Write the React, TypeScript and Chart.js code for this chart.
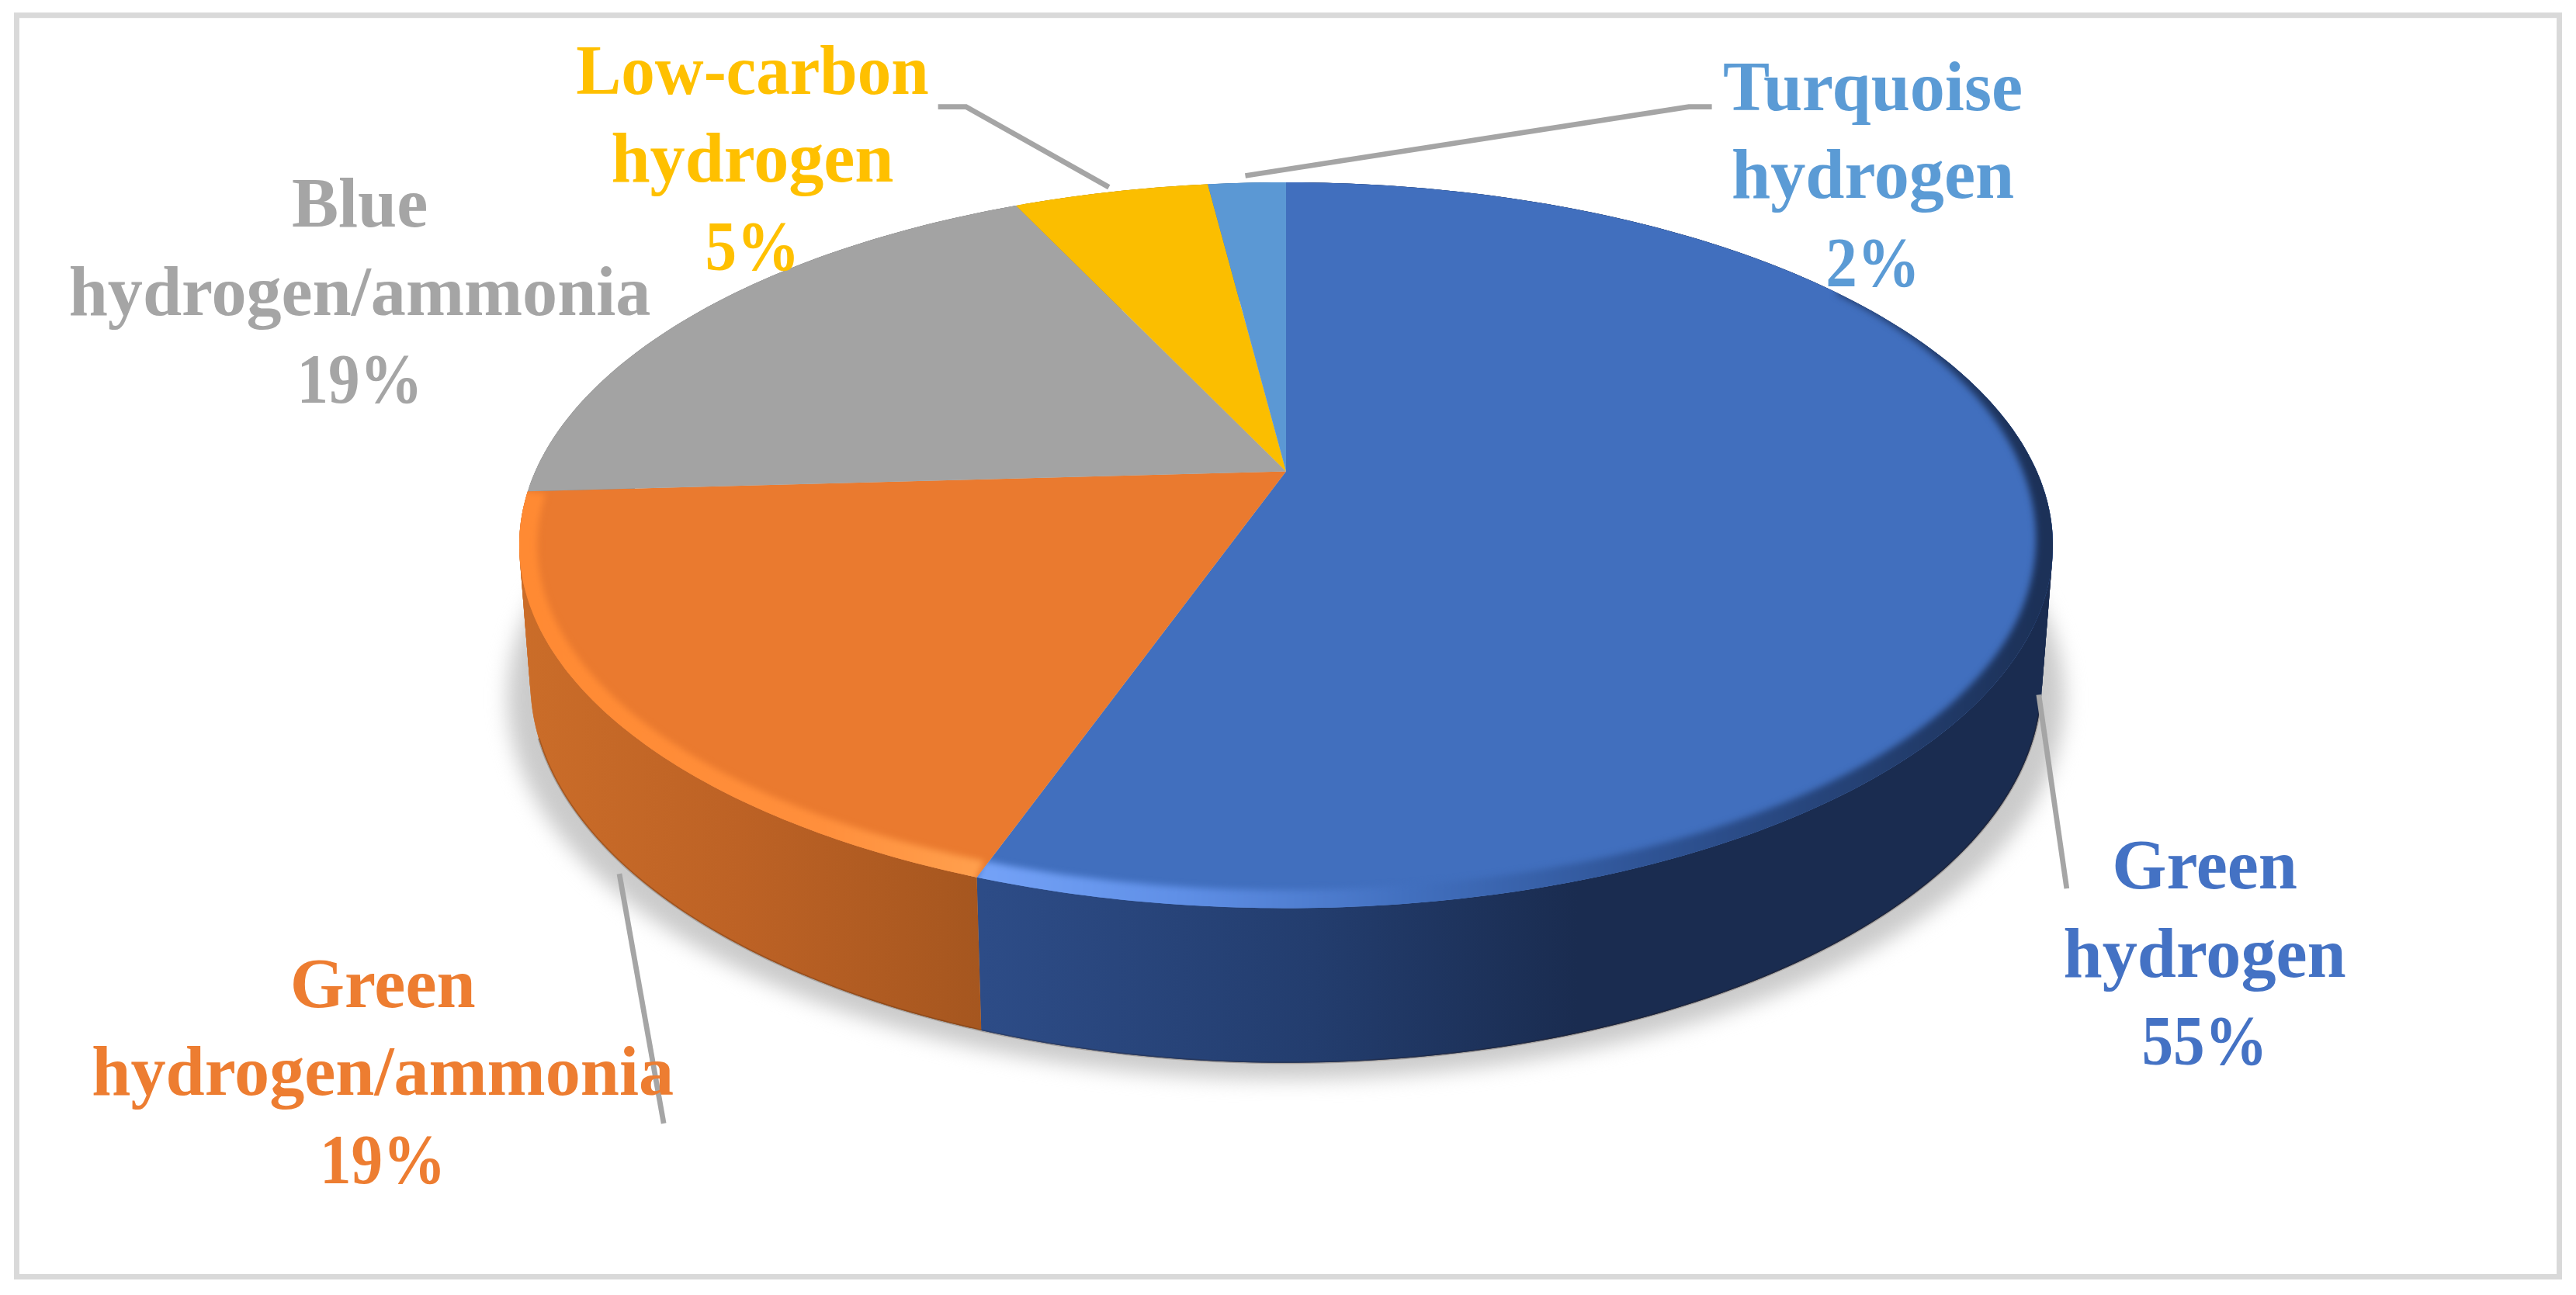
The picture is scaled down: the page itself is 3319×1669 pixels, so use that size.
import React, { useEffect, useRef } from "react";
import { Chart, registerables } from "chart.js";

Chart.register(...registerables);

const categories = ["Green hydrogen", "Green hydrogen/ammonia", "Blue hydrogen/ammonia", "Low-carbon hydrogen", "Turquoise hydrogen"];
const shares = [55.4, 18.7, 18.9, 5, 2];
const labelLines = [["Green", "hydrogen"], ["Green", "hydrogen/ammonia"], ["Blue", "hydrogen/ammonia"], ["Low-carbon", "hydrogen"], ["Turquoise", "hydrogen"]];
const sliceColors = ["#416fbe", "#ea7a2f", "#a3a3a3", "#fbbe00", "#5b98d4"];
const textColors = ["#4472c4", "#ed7d31", "#a5a5a5", "#ffc000", "#5b9bd5"];

const S = 3319 / 1568;
const FONT = 'bold 42.6px "Liberation Serif"';
const labelPos = [
  { x: 1342, y: 541 },
  { x: 233, y: 613 },
  { x: 219, y: 138 },
  { x: 458, y: 57 },
  { x: 1140, y: 67 },
];
const LINE_GAP = 53.7;
const leaders = [
  [[1241, 423], [1258, 541]],
  [[377, 532], [404, 684]],
  [[571, 65], [588, 65], [675, 114]],
  [[758, 107], [1028, 65], [1042, 65]],
];
const wallStops: [number, string][][] = [
  [[598, "#2d4c87"], [800, "#233d6e"], [960, "#1a2c50"], [1260, "#1a2c50"]],
  [[315, "#cb6d29"], [450, "#bd6225"], [600, "#a5561f"]],
  [[315, "#7c7c7c"], [620, "#7c7c7c"]],
  [[620, "#bf9000"], [740, "#bf9000"]],
  [[735, "#3f76a8"], [785, "#3f76a8"]],
];
const rimStops: [number, string][][] = [
  [[598, "#74a2f7"], [720, "#5f8fe6"], [860, "#416fbe"], [1000, "#2f5496"], [1240, "#1c3158"]],
  [[320, "#ff8a33"], [500, "#ff8f3c"], [600, "#ffa04e"]],
];

const K = -0.2036;
const project = (theta: number, a: number, b: number, c: number) => {
  const u = Math.sin(theta);
  const v = -Math.cos(theta);
  const w = 1 + K * v;
  return [(a * u) / w, (b * v + c) / w];
};
const topP = (t: number) => project(t, 457, 211.8, 0);
const botP = (t: number) => project(t, 450.4, 206, 80.8);

const range = (t0: number, t1: number) => {
  const n = Math.max(2, Math.ceil((t1 - t0) * 80));
  const out: number[] = [];
  for (let i = 0; i <= n; i++) out.push(t0 + ((t1 - t0) * i) / n);
  return out;
};
const rad = (d: number) => (d * Math.PI) / 180;
const BAND_START = 55;
const bandWidth = (t: number) => {
  const f = Math.min(1, Math.max(0, (t - rad(BAND_START)) / rad(55)));
  return 1 + 10 * f * f * (3 - 2 * f);
};

const pie3d = {
  id: "pie3d",
  beforeDatasetDraw(chart: any) {
    const ctx = chart.ctx as CanvasRenderingContext2D;
    const arcs = chart.getDatasetMeta(0).data;
    const cx = arcs[0].x / S;
    const cy = arcs[0].y / S;
    const angles = arcs.map((el: any) => {
      const p = el.getProps(["startAngle", "endAngle"], true);
      return [p.startAngle + Math.PI / 2, p.endAngle + Math.PI / 2];
    });
    const poly = (fn: (t: number) => number[], t0: number, t1: number) => {
      ctx.beginPath();
      range(t0, t1).forEach((t, j) => {
        const [x, y] = fn(t);
        if (j) ctx.lineTo(cx + x, cy + y);
        else ctx.moveTo(cx + x, cy + y);
      });
    };
    const hGrad = (stops: [number, string][]) => {
      const x0 = stops[0][0];
      const w = stops[stops.length - 1][0] - x0;
      const g = ctx.createLinearGradient(x0, 0, x0 + w, 0);
      stops.forEach(([x, col]) => g.addColorStop((x - x0) / w, col));
      return g;
    };
    ctx.save();
    ctx.scale(S, S);

    // soft shadow
    ctx.save();
    ctx.filter = "blur(13px)";
    ctx.fillStyle = "#cbcbcb";
    ctx.beginPath();
    range(0, Math.PI * 2).forEach((t, i) => {
      const [x, y] = botP(t);
      const px = cx + x * 1.03;
      const py = cy + y + 10;
      if (i) ctx.lineTo(px, py);
      else ctx.moveTo(px, py);
    });
    ctx.closePath();
    ctx.fill();
    ctx.restore();

    // walls, built from overlapping strips so the fold at the silhouette stays filled
    angles.forEach(([t0, t1]: number[], i: number) => {
      const ts = range(t0, t1);
      ctx.fillStyle = hGrad(wallStops[i]);
      for (let j = 0; j < ts.length - 1; j++) {
        const a = ts[j];
        const b = ts[Math.min(j + 2, ts.length - 1)];
        const [x1, y1] = topP(a);
        const [x2, y2] = topP(b);
        const [x3, y3] = botP(b);
        const [x4, y4] = botP(a);
        ctx.beginPath();
        ctx.moveTo(cx + x1, cy + y1);
        ctx.lineTo(cx + x2, cy + y2);
        ctx.lineTo(cx + x3, cy + y3);
        ctx.lineTo(cx + x4, cy + y4);
        ctx.closePath();
        ctx.fill();
      }
    });
    // dark lower edge of the wall
    ctx.strokeStyle = "rgba(40,20,0,0.22)";
    ctx.lineWidth = 1.4;
    poly(botP, rad(105), rad(250));
    ctx.stroke();

    // top face
    const slicePath = (t0: number, t1: number) => {
      ctx.beginPath();
      ctx.moveTo(cx, cy);
      range(t0, t1).forEach((t) => {
        const [x, y] = topP(t);
        ctx.lineTo(cx + x, cy + y);
      });
      ctx.closePath();
    };
    angles.forEach(([t0, t1]: number[], i: number) => {
      slicePath(t0, t1);
      ctx.fillStyle = sliceColors[i];
      ctx.fill();
    });

    // bevel along the front rim, tapering in from the back
    const ey = 45;
    [0, 1].forEach((i) => {
      const [t0, t1] = angles[i];
      const from = i === 0 ? rad(BAND_START) : t0;
      const ts = range(from, t1);
      ctx.save();
      slicePath(t0, t1);
      ctx.clip();
      ctx.filter = "blur(4px)";
      ctx.fillStyle = hGrad(rimStops[i]);
      const at = (t: number, off: number) => {
        const [x, y] = topP(t);
        const dx = x;
        const dy = (y - ey) * 2.1;
        const d = Math.hypot(dx, dy) || 1;
        return [cx + x + (dx / d) * off, cy + y + (dy / d) * off];
      };
      ctx.beginPath();
      ts.forEach((t, j) => {
        const [x, y] = at(t, 8);
        if (j) ctx.lineTo(x, y);
        else ctx.moveTo(x, y);
      });
      [...ts].reverse().forEach((t) => {
        const [x, y] = at(t, i === 0 ? -bandWidth(t) : -11);
        ctx.lineTo(x, y);
      });
      ctx.closePath();
      ctx.fill();
      ctx.restore();
    });

    // leader lines
    ctx.strokeStyle = "#a5a5a5";
    ctx.lineWidth = 3.2;
    ctx.lineJoin = "miter";
    leaders.forEach((pts) => {
      ctx.beginPath();
      pts.forEach(([x, y], j) => (j ? ctx.lineTo(x, y) : ctx.moveTo(x, y)));
      ctx.stroke();
    });

    // labels
    ctx.font = FONT;
    ctx.textAlign = "center";
    ctx.textBaseline = "alphabetic";
    chart.data.datasets[0].data.forEach((v: number, i: number) => {
      const lines = [...labelLines[i], `${Math.round(v)}%`];
      ctx.fillStyle = textColors[i];
      lines.forEach((s, j) => {
        const squeeze = j === 2 ? 0.9 : s === "Low-carbon" ? 0.965 : 1;
        ctx.save();
        ctx.translate(labelPos[i].x, labelPos[i].y + j * LINE_GAP);
        ctx.scale(squeeze, 1);
        ctx.fillText(s, 0, 0);
        ctx.restore();
      });
    });

    // frame
    ctx.strokeStyle = "#d9d9d9";
    ctx.lineWidth = 7 / S;
    ctx.strokeRect(21.5 / S, 19.7 / S, (3297.5 - 21.5) / S, (1645.5 - 19.7) / S);
    ctx.restore();
    return false;
  },
};

export default function App() {
  const ref = useRef<HTMLCanvasElement>(null);
  useEffect(() => {
    const chart = new Chart(ref.current!, {
      type: "pie",
      data: {
        labels: categories,
        datasets: [{ data: shares, backgroundColor: sliceColors, borderWidth: 0 }],
      },
      options: {
        animation: false,
        responsive: false,
        rotation: 0,
        layout: { padding: { top: 0, left: 0, right: 5, bottom: 454 } },
        plugins: { legend: { display: false }, tooltip: { enabled: false } },
      },
      plugins: [pie3d],
    } as any);
    return () => chart.destroy();
  }, []);
  return (
    <div style={{ position: "fixed", left: 0, top: 0, width: 3319, height: 1669, background: "#fff" }}>
      <canvas ref={ref} width={3319} height={1669} style={{ display: "block", width: 3319, height: 1669 }} />
    </div>
  );
}
